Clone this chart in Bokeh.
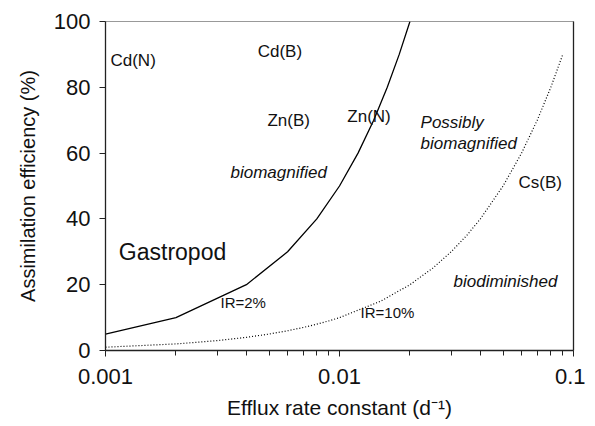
from bokeh.plotting import figure
from bokeh.models import FixedTicker, CustomJSTickFormatter, LinearAxis, Range1d
from bokeh.core.properties import value
from bokeh.embed import file_html
from bokeh.resources import INLINE

# IR = 2% curve
k_ir2 = [0.001, 0.002, 0.004, 0.006, 0.008, 0.010, 0.012, 0.014, 0.016, 0.018, 0.020]
ae_ir2 = [5, 10, 20, 30, 40, 50, 60, 70, 80, 90, 100]
# IR = 10% curve
k_ir10 = [0.001, 0.002, 0.003, 0.004, 0.005, 0.006, 0.007, 0.008, 0.009, 0.010,
          0.015, 0.020, 0.025, 0.030, 0.035, 0.040, 0.050, 0.060, 0.070, 0.080, 0.090]
ae_ir10 = [1, 2, 3, 4, 5, 6, 7, 8, 9, 10,
           15, 20, 25, 30, 35, 40, 50, 60, 70, 80, 90]

x_ticks = [0.001, 0.01, 0.1]
x_minor = [0.002, 0.003, 0.004, 0.005, 0.006, 0.007, 0.008, 0.009,
           0.02, 0.03, 0.04, 0.05, 0.06, 0.07, 0.08, 0.09]
y_ticks = [0, 20, 40, 60, 80, 100]

labels = ["Cd(N)", "Cd(B)", "Zn(B)", "Zn(N)", "Cs(B)"]
label_x = [0.00105, 0.00447, 0.00492, 0.0108, 0.0582]
label_y = [88, 91, 70, 71, 51]

region_labels = ["biomagnified", "Possibly\nbiomagnified", "biodiminished"]
region_x = [0.00342, 0.0222, 0.0307]
region_y = [54, 66, 21]

curve_labels = ["IR=2%", "IR=10%"]
curve_x = [0.0031, 0.0123]
curve_y = [14.6, 11.6]

FONT = "Liberation Sans"

p = figure(x_axis_type="log",
           x_range=Range1d(0.001, 0.1), y_range=Range1d(0, 100),
           output_backend="svg", toolbar_location=None,
           frame_width=468, frame_height=329,
           min_border_left=105, min_border_top=21, min_border_right=12, min_border_bottom=10)

p.line(k_ir2, ae_ir2, line_color="black", line_width=1.3)
p.line(k_ir10, ae_ir10, line_color="black", line_width=1.2, line_dash="1 2")

p.text(label_x, label_y, text=labels, text_font=value(FONT), text_font_size="17px",
       text_color="#111", text_baseline="middle", text_align="left")
p.text(region_x, region_y, text=region_labels, text_font=value(FONT), text_font_size="17px",
       text_font_style="italic", text_color="#111", text_baseline="middle", text_align="left",
       text_line_height=1.1)
p.text([0.00114], [30], text=["Gastropod"], text_font=value(FONT), text_font_size="23px",
       text_color="#111", text_baseline="middle", text_align="left")
p.text(curve_x, curve_y, text=curve_labels, text_font=value(FONT), text_font_size="15px",
       text_color="#111", text_baseline="middle", text_align="left")

p.xgrid.visible = False
p.ygrid.visible = False
p.outline_line_color = "#999"

p.xaxis.ticker = FixedTicker(ticks=x_ticks, minor_ticks=x_minor)
p.xaxis.formatter = CustomJSTickFormatter(code="return tick.toString();")
p.yaxis.ticker = FixedTicker(ticks=y_ticks)

for ax in (p.xaxis[0], p.yaxis[0]):
    ax.axis_line_color = "#222"
    ax.axis_line_width = 1.3
    ax.major_tick_line_color = "#222"
    ax.minor_tick_line_color = "#222"
    ax.major_tick_in = 0
    ax.major_tick_out = 6
    ax.minor_tick_in = 0
    ax.minor_tick_out = 5
    ax.major_label_text_font = FONT
    ax.major_label_text_font_size = "22px"
    ax.major_label_text_color = "#111"
    ax.axis_label_text_font = FONT
    ax.axis_label_text_font_size = "20px"
    ax.axis_label_text_font_style = "normal"
    ax.axis_label_text_color = "#111"

p.yaxis.minor_tick_out = 0
p.xaxis.major_label_standoff = 12
p.yaxis.major_label_standoff = 9
p.xaxis.axis_label = "Efflux rate constant (d\u207b\u00b9)"
p.xaxis.axis_label_text_font_size = "21px"
p.yaxis.axis_label = "Assimilation efficiency (%)"
p.xaxis.axis_label_standoff = 9
p.yaxis.axis_label_standoff = 12

right = LinearAxis(major_tick_line_color=None, minor_tick_line_color=None,
                   major_label_text_font_size="0px", axis_line_color="#222", axis_line_width=1.3)
right.ticker = FixedTicker(ticks=[])
p.add_layout(right, "right")

open("out.html", "w").write(file_html(p, INLINE))
